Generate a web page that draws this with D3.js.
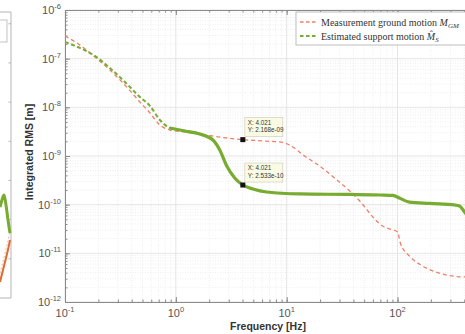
<!DOCTYPE html>
<html><head><meta charset="utf-8">
<script src="https://cdn.jsdelivr.net/npm/d3@7"></script>
<style>html,body{margin:0;padding:0;background:#fff;overflow:hidden}svg{display:block}</style>
</head><body>
<svg id="c" width="465" height="334"></svg>
<script>
// ---- data ----
const freqMeas = [0.1,0.136,0.186,0.254,0.347,0.474,0.584,0.718,0.883,1.205,1.645,2.49,4.021,6.34,9.2,10.6,14.5,19.8,27.0,37.0,47.4,62.1,73.3,90.2,100,106,128,168,254,402,500];
const rmsMeas  = [2.92e-7,1.91e-7,1.08e-7,5.85e-8,2.88e-8,1.29e-8,7.65e-9,4.34e-9,3.42e-9,3.11e-9,2.83e-9,2.45e-9,2.168e-9,2.03e-9,1.9e-9,1.68e-9,1.0e-9,6.24e-10,3.53e-10,1.91e-10,1.08e-10,5.08e-11,3.65e-11,3.02e-11,2.75e-11,1.63e-11,8.8e-12,5.5e-12,3.77e-12,3.27e-12,3.27e-12];
const freqSupp = [0.1,0.136,0.186,0.254,0.347,0.474,0.584,0.718,0.883,1.205,1.645,2.16,2.49,2.88,3.40,4.021,4.96,6.6,13.2,37.3,69.9,91.1,104,128,196,330,363,402,500];
const rmsSupp  = [2.2e-7,1.66e-7,1.14e-7,6.43e-8,3.32e-8,1.63e-8,1.07e-8,5.5e-9,3.77e-9,3.27e-9,2.83e-9,2.13e-9,1.33e-9,6.23e-10,3.53e-10,2.533e-10,2.1e-10,1.82e-10,1.66e-10,1.62e-10,1.58e-10,1.55e-10,1.37e-10,1.13e-10,1.06e-10,9.84e-11,9.4e-11,7.08e-11,3.8e-11];
const seriesNames = ["Measurement ground motion ", "Estimated support motion "];
const dataTips = [{f:4.021, v:2.168e-9, xs:"X: 4.021", ys:"Y: 2.168e-09"},{f:4.021, v:2.533e-10, xs:"X: 4.021", ys:"Y: 2.533e-10"}];
const xExps = [-1,0,1,2];
const yExps = [-12,-11,-10,-9,-8,-7,-6];
// fragment of the neighbouring panel (cropped)
const leftX = [0,2,4,6,8,10];
const leftGreen = [0.318,0.343,0.360,0.325,0.273,0.227];
const leftXo = [0,3,6,9,10];
const leftOrange = [0.056,0.098,0.140,0.185,0.203];

// ---- layout ----
const svg = d3.select("#c");
const L=65, R=475, T=10, B=302;
const x = d3.scaleLog().domain([0.1,500]).range([L,R]);
const y = d3.scaleLog().domain([1e-12,1e-6]).range([B,T]);
const axisCol = "#8a8a8a", txtCol = "#555";

// minor values
const minorX=[], minorY=[];
for (let e=-1;e<=2;e++) for (let m=1;m<=9;m++){const v=m*Math.pow(10,e); if(v<=500) minorX.push(v);}
for (let e=-12;e<-6;e++) for (let m=1;m<=9;m++) minorY.push(m*Math.pow(10,e));
const majorX = xExps.map(e=>Math.pow(10,e)), majorY = yExps.map(e=>Math.pow(10,e));

svg.append("defs").append("clipPath").attr("id","pc").append("rect").attr("x",L).attr("y",T).attr("width",R-L).attr("height",B-T);

const grid = svg.append("g");
grid.selectAll(".vm").data(minorX.filter(v=>!majorX.includes(v))).join("line")
  .attr("x1",d=>x(d)).attr("x2",d=>x(d)).attr("y1",T).attr("y2",B)
  .attr("stroke","#e6e6e6").attr("stroke-width",0.7).attr("stroke-dasharray","1,1.5");
grid.selectAll(".hm").data(minorY.filter(v=>!majorY.some(m=>Math.abs(m-v)/v<1e-6))).join("line")
  .attr("x1",L).attr("x2",R).attr("y1",d=>y(d)).attr("y2",d=>y(d))
  .attr("stroke","#e6e6e6").attr("stroke-width",0.7).attr("stroke-dasharray","1,1.5");
grid.selectAll(".vM").data(majorX).join("line")
  .attr("x1",d=>x(d)).attr("x2",d=>x(d)).attr("y1",T).attr("y2",B).attr("stroke","#dedede").attr("stroke-width",0.8);
grid.selectAll(".hM").data(majorY).join("line")
  .attr("x1",L).attr("x2",R).attr("y1",d=>y(d)).attr("y2",d=>y(d)).attr("stroke","#dedede").attr("stroke-width",0.8);

// axes
function styleAxis(g){g.select(".domain").attr("stroke",axisCol).attr("stroke-width",1);g.selectAll(".tick line").attr("stroke",axisCol);g.selectAll("text").remove();}
svg.append("g").attr("transform",`translate(0,${B})`).call(d3.axisBottom(x).tickValues(majorX).tickSize(-5).tickSizeOuter(0)).call(styleAxis);
svg.append("g").attr("transform",`translate(0,${B})`).call(d3.axisBottom(x).tickValues(minorX).tickSize(-2.5).tickSizeOuter(0)).call(styleAxis);
svg.append("g").attr("transform",`translate(0,${T})`).call(d3.axisTop(x).tickValues(majorX).tickSize(-5).tickSizeOuter(0)).call(styleAxis);
svg.append("g").attr("transform",`translate(0,${T})`).call(d3.axisTop(x).tickValues(minorX).tickSize(-2.5).tickSizeOuter(0)).call(styleAxis);
svg.append("g").attr("transform",`translate(${L},0)`).call(d3.axisLeft(y).tickValues(majorY).tickSize(-5).tickSizeOuter(0)).call(styleAxis);
svg.append("g").attr("transform",`translate(${L},0)`).call(d3.axisLeft(y).tickValues(minorY).tickSize(-2.5).tickSizeOuter(0)).call(styleAxis);

// tick labels
const xl = svg.append("g").attr("font-family","Liberation Sans, Arial, sans-serif").attr("fill",txtCol);
xl.selectAll("text").data(xExps).join("text").attr("x",d=>x(Math.pow(10,d))).attr("y",B+15).attr("text-anchor","middle").attr("font-size",11)
  .each(function(d){const t=d3.select(this);t.append("tspan").text("10");t.append("tspan").attr("dy",-5).attr("font-size",7.5).text(d);});
const yl = svg.append("g").attr("font-family","Liberation Sans, Arial, sans-serif").attr("fill",txtCol);
yl.selectAll("text").data(yExps).join("text").attr("x",L-4).attr("y",d=>y(Math.pow(10,d))+4).attr("text-anchor","end").attr("font-size",11)
  .each(function(d){const t=d3.select(this);t.append("tspan").text("10");t.append("tspan").attr("dy",-5).attr("font-size",7.5).text(d);});

// axis titles
svg.append("text").attr("x",268).attr("y",330).attr("text-anchor","middle").attr("font-family","Liberation Sans, Arial, sans-serif")
  .attr("font-weight","bold").attr("font-size",10.5).attr("fill","#333").text("Frequency [Hz]");
svg.append("text").attr("transform","translate(33,152) rotate(-90)").attr("text-anchor","middle").attr("font-family","Liberation Sans, Arial, sans-serif")
  .attr("font-weight","bold").attr("font-size",10.5).attr("fill","#333").text("Integrated RMS [m]");

// lines
const plot = svg.append("g").attr("clip-path","url(#pc)");
const line = d3.line().x(d=>x(d[0])).y(d=>y(d[1])).curve(d3.curveMonotoneX);
const measPts = freqMeas.map((f,i)=>[f,rmsMeas[i]]);
const suppPts = freqSupp.map((f,i)=>[f,rmsSupp[i]]);
const redCol = "#ee8068", greenCol = "#77ac30";
plot.append("path").datum(measPts).attr("d",line).attr("fill","none").attr("stroke",redCol).attr("stroke-width",1.3).attr("stroke-dasharray","4,3");
plot.append("path").datum(suppPts).attr("d",line).attr("fill","none").attr("stroke",greenCol).attr("stroke-width",2).attr("stroke-dasharray","4,2.5");
plot.append("path").datum(suppPts.filter(d=>d[0]>=0.85)).attr("d",line).attr("fill","none").attr("stroke",greenCol).attr("stroke-width",3.2);

// data tips
const tips = svg.append("g").attr("font-family","Liberation Sans, Arial, sans-serif");
dataTips.forEach(d=>{
  const mx=x(d.f), my=y(d.v);
  tips.append("rect").attr("x",mx+2).attr("y",my-22).attr("width",38).attr("height",19).attr("fill","#fbfbe4").attr("stroke","#c8c8b8").attr("stroke-width",0.6);
  tips.append("text").attr("x",mx+5).attr("y",my-15).attr("font-size",6.3).attr("fill","#333").text(d.xs);
  tips.append("text").attr("x",mx+5).attr("y",my-7.5).attr("font-size",6.3).attr("fill","#333").text(d.ys);
  tips.append("rect").attr("x",mx-2.5).attr("y",my-2.5).attr("width",5).attr("height",5).attr("fill","#111");
});

// legend
const lg = svg.append("g");
lg.append("rect").attr("x",296).attr("y",12).attr("width",200).attr("height",33).attr("fill","#fff").attr("stroke","#b0b0b0").attr("stroke-width",0.8);
const legCols=[redCol,greenCol], legY=[22,36];
seriesNames.forEach((n,i)=>{
  lg.append("line").attr("x1",300).attr("x2",318).attr("y1",legY[i]).attr("y2",legY[i]).attr("stroke",legCols[i]).attr("stroke-width",i?2:1.3).attr("stroke-dasharray","3.5,2.5");
  const t=lg.append("text").attr("x",321).attr("y",legY[i]+3.5).attr("font-family","Liberation Serif, DejaVu Serif, serif").attr("font-size",10).attr("fill","#333").text(n);
  if(i===0){t.append("tspan").attr("font-style","italic").text("M");t.append("tspan").attr("font-style","italic").attr("font-size",7).attr("dy",2).text("GM");}
  else{t.append("tspan").attr("font-style","italic").text("M\u0302");t.append("tspan").attr("font-style","italic").attr("font-size",7).attr("dy",2).text("S");}
});

// neighbouring panel fragment
const lx = d3.scaleLinear().domain([0,10]).range([0,10]);
const ly = d3.scaleLinear().domain([0,1]).range([298,12]);
const lp = svg.append("g");
lp.append("path").attr("d",`M0,${ly(1)}H${lx(11)}V${ly(0)}H0`).attr("fill","none").attr("stroke","#b5b5b5").attr("stroke-width",1);
lp.selectAll(".lt").data(d3.range(1,8).map(i=>i/7.3)).join("line").attr("x1",lx(11)).attr("x2",lx(8.5)).attr("y1",d=>ly(d)).attr("y2",d=>ly(d)).attr("stroke","#b5b5b5");
lp.append("rect").attr("x",-20).attr("y",20).attr("width",27).attr("height",22).attr("fill","#fff").attr("stroke","#b5b5b5").attr("stroke-width",0.8);
const ll = d3.line().x(d=>lx(d[0])).y(d=>ly(d[1])).curve(d3.curveMonotoneX);
lp.append("path").datum(leftXo.map((v,i)=>[v,leftOrange[i]+0.03])).attr("d",ll).attr("fill","none").attr("stroke","#f4b090").attr("stroke-width",1).attr("stroke-dasharray","2,2");
lp.append("path").datum(leftXo.map((v,i)=>[v,leftOrange[i]])).attr("d",ll).attr("fill","none").attr("stroke","#e06a30").attr("stroke-width",2);
lp.append("path").datum(leftX.map((v,i)=>[v,leftGreen[i]])).attr("d",ll).attr("fill","none").attr("stroke",greenCol).attr("stroke-width",3);
</script>
</body></html>
